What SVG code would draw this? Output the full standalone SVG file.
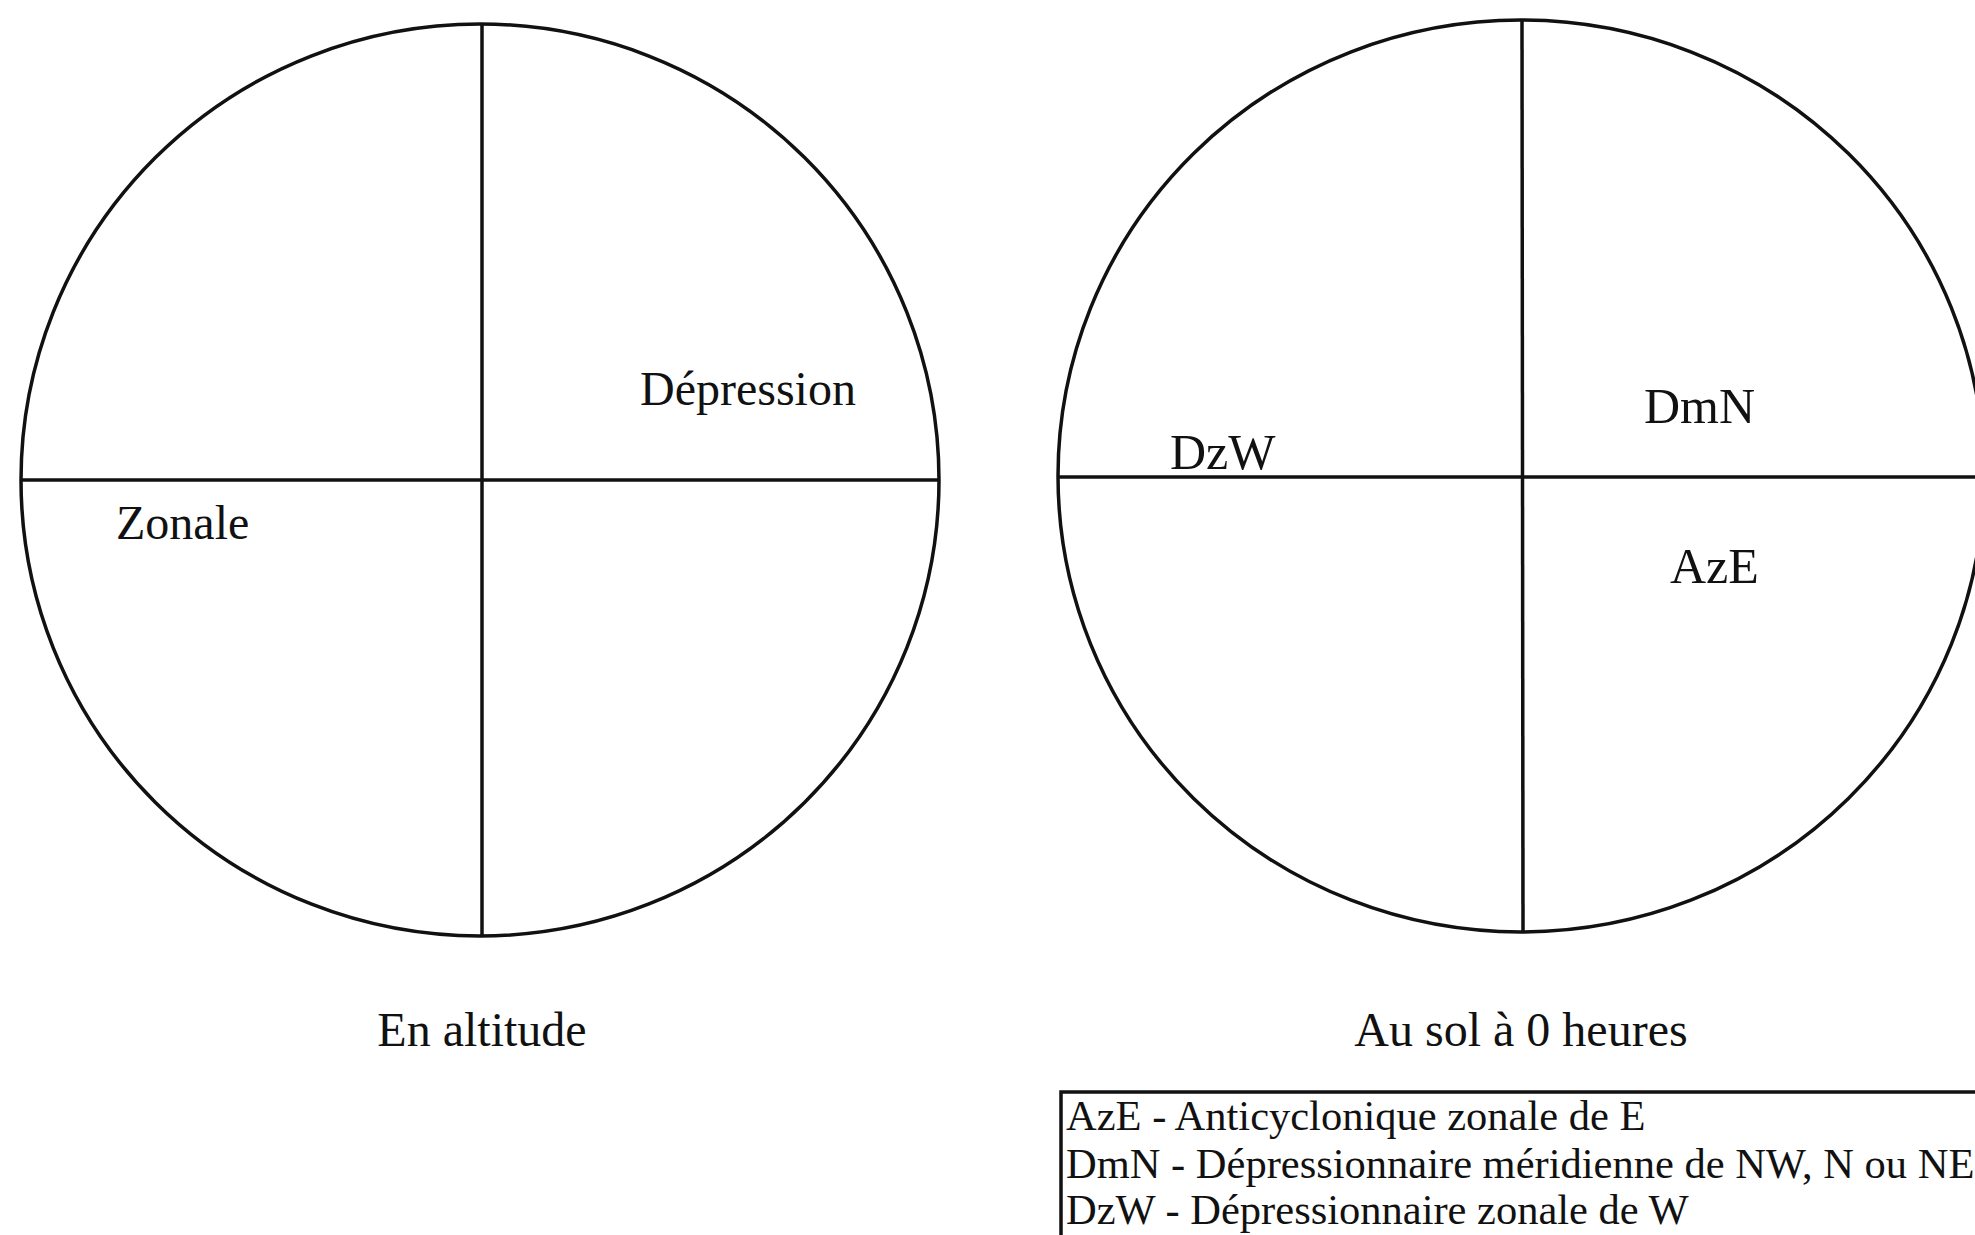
<svg xmlns="http://www.w3.org/2000/svg" width="1975" height="1235" viewBox="0 0 1975 1235">
<style>
.c{fill:none;stroke:#111;stroke-width:3.5}
.t{font-family:"Liberation Serif","Times New Roman",serif;fill:#111}
</style>
<rect width="1975" height="1235" fill="#fff"/>
<g id="altitude">
<ellipse class="c" cx="480" cy="480" rx="459" ry="456"/>
<line class="c" x1="482" y1="24" x2="482" y2="936"/>
<line class="c" x1="21" y1="480" x2="939" y2="480"/>
<text class="t" x="640" y="405" font-size="48">Dépression</text>
<text class="t" x="116" y="539" font-size="48">Zonale</text>
<text class="t" x="482" y="1046" font-size="48" text-anchor="middle">En altitude</text>
</g>
<g id="sol">
<ellipse class="c" cx="1521" cy="476" rx="463" ry="456"/>
<line class="c" x1="1522" y1="20" x2="1523" y2="932"/>
<line class="c" x1="1058" y1="477" x2="1985" y2="477"/>
<text class="t" x="1644" y="423" font-size="50">DmN</text>
<text class="t" x="1170" y="469" font-size="50">DzW</text>
<text class="t" x="1670" y="583" font-size="50">AzE</text>
<text class="t" x="1521" y="1046" font-size="48" text-anchor="middle">Au sol à 0 heures</text>
</g>
<g id="legende">
<rect class="c" x="1061" y="1092" width="940" height="160"/>
<text class="t" x="1066" y="1130" font-size="42.5">AzE - Anticyclonique zonale de E</text>
<text class="t" x="1066" y="1178" font-size="42.5">DmN - Dépressionnaire méridienne de NW, N ou NE</text>
<text class="t" x="1066" y="1224" font-size="42.5">DzW - Dépressionnaire zonale de W</text>
</g>
<g id="connectors"/>
</svg>
